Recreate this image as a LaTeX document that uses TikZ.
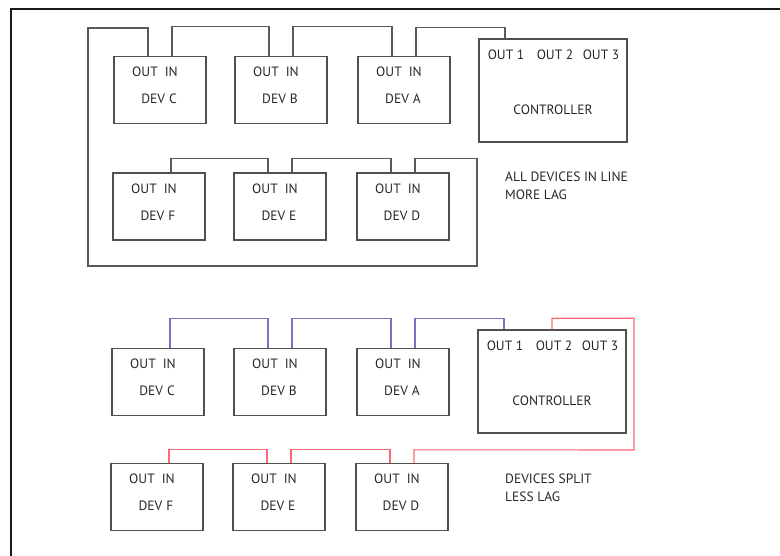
\documentclass[tikz,border=0pt]{standalone}
\usepackage{fontspec}
\setmainfont{PT Sans}
\usepackage{tikz}
\usetikzlibrary{calc}
\definecolor{boxgray}{HTML}{505050}
\definecolor{wiregray}{HTML}{5A5A5A}
\definecolor{frameink}{HTML}{1A1A1A}
\definecolor{wireblue}{HTML}{7474C4}
\definecolor{wirered}{HTML}{FF6673}
\definecolor{labelink}{HTML}{262626}
\tikzset{
  devbox/.style={draw=boxgray,line width=1.4pt,
                 minimum width=92pt,minimum height=67pt,inner sep=0pt},
  ctlbox/.style={draw=boxgray,line width=1.4pt,
                 minimum width=148pt,minimum height=103pt,inner sep=0pt},
  lbl/.style={font=\fontsize{13.5}{15}\selectfont,text=labelink,inner sep=0pt},
  note/.style={font=\fontsize{13.5}{18.5}\selectfont,text=labelink,
               inner sep=0pt,anchor=west,align=left},
  wire/.style={draw=wiregray,line width=1.1pt},
  bluewire/.style={draw=wireblue,line width=1.1pt},
  redwire/.style={draw=wirered,line width=1.1pt},
  frameline/.style={draw=frameink,line width=1.4pt}
}

\begin{document}
\begin{tikzpicture}[x=1pt,y=-1pt]
  \useasboundingbox (0,0) rectangle (780,556);
  \draw[frameline] (780,9) -- (11,9) -- (11,556);

  % devices, both layouts
  \foreach \n/\x/\y/\t in {tC/160/90/C,tB/281/90/B,tA/404/90/A,
                           tF/159/206.5/F,tE/280/206.5/E,tD/403/206.5/D,
                           bC/158/382/C,bB/280/382/B,bA/403/382/A,
                           bF/157/497/F,bE/279/497/E,bD/402/497/D} {
    \node[devbox] (\n) at (\x,\y) {};
    \node[lbl] (\n-p) at ([xshift=-5pt,yshift=18pt]\n.center) {OUT\hspace{7pt}IN};
    \node[lbl] (\n-t) at ([xshift=-1pt,yshift=-9pt]\n.center) {DEV\hspace{4pt}\t};
    \coordinate (\n-out) at ([xshift=-12pt]\n.north);
    \coordinate (\n-in) at ([xshift=12pt]\n.north);
  }

  % controllers
  \foreach \n/\x/\y in {tctl/553/90.5,bctl/552/381.5} {
    \node[ctlbox] (\n) at (\x,\y) {};
    \foreach \k/\dx in {1/-47,2/2,3/48} {
      \node[lbl] (\n-t\k) at ([xshift=\dx pt,yshift=36pt]\n.center) {OUT \k};
    }
    \node[lbl] (\n-name) at ([yshift=-19.5pt]\n.center) {CONTROLLER};
    \coordinate (\n-o1) at ([xshift=-48pt]\n.north);
    \coordinate (\n-o2) at (\n.north);
  }

  % all devices in line
  \coordinate (tloopNW) at (88,28);
  \coordinate (tloopSE) at (477,266);
  \draw[wire] (tC-in) |- ([yshift=29pt]tB-out) -- (tB-out);
  \draw[wire] (tB-in) |- ([yshift=29pt]tA-out) -- (tA-out);
  \draw[wire] (tA-in) |- ([yshift=11pt]tctl-o1) -- (tctl-o1);
  \draw[wire] (tC-out) |- (tloopNW) |- (tloopSE) |- ([yshift=14pt]tD-in) -- (tD-in);
  \draw[wire] (tF-in) |- ([yshift=14pt]tE-out) -- (tE-out);
  \draw[wire] (tE-in) |- ([yshift=14pt]tD-out) -- (tD-out);
  \node[note] (tnote) at (505,186) {ALL DEVICES IN LINE\\MORE LAG};

  % devices split
  \coordinate (bloopE) at (634,450);
  \draw[bluewire] (bC-in) |- ([yshift=29pt]bB-out) -- (bB-out);
  \draw[bluewire] (bB-in) |- ([yshift=29pt]bA-out) -- (bA-out);
  \draw[bluewire] (bA-in) |- ([yshift=11pt]bctl-o1) -- (bctl-o1);
  \draw[redwire] (bctl-o2) -- ([yshift=11pt]bctl-o2) -| (bloopE) -- ([yshift=13pt]bD-in) -- (bD-in);
  \draw[redwire] (bF-in) |- ([yshift=13pt]bE-out) -- (bE-out);
  \draw[redwire] (bE-in) |- ([yshift=13pt]bD-out) -- (bD-out);
  \node[note] (bnote) at (505,488) {DEVICES SPLIT\\LESS LAG};
\end{tikzpicture}
\end{document}
